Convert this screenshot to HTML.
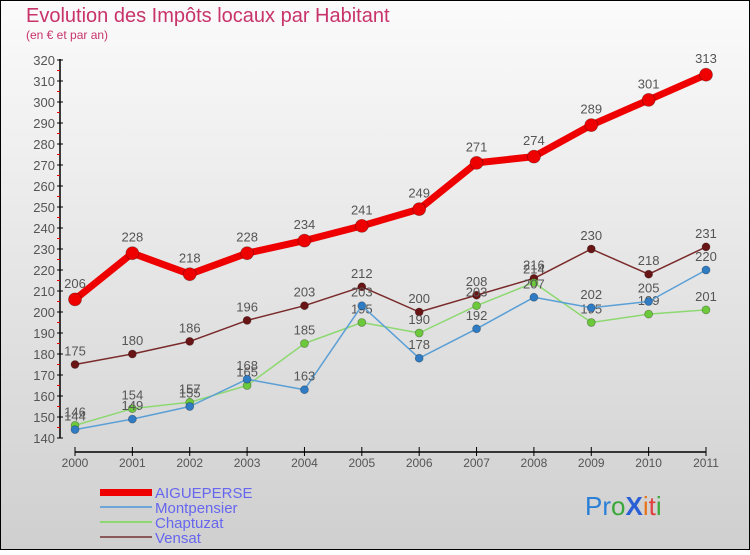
<!DOCTYPE html>
<html><head><meta charset="utf-8"><style>
html,body{margin:0;padding:0}
body{width:750px;height:550px;overflow:hidden;font-family:"Liberation Sans",sans-serif}
</style></head><body>
<svg id="c" width="750" height="550" xmlns="http://www.w3.org/2000/svg" font-family="'Liberation Sans',sans-serif">
<defs><linearGradient id="bg" x1="0" y1="0" x2="0" y2="1"><stop offset="0" stop-color="#fbfbfb"/><stop offset="1" stop-color="#cfcfcf"/></linearGradient></defs>
<rect x="0.5" y="0.5" width="749" height="549" fill="url(#bg)" stroke="#000"/>
<text x="26" y="22" font-size="20" fill="#c8336a">Evolution des Impôts locaux par Habitant</text>
<text x="26" y="39" font-size="12" fill="#c8336a">(en € et par an)</text>
<g id="axes"></g><g id="series"></g>
<g font-size="15" fill="#6666ee">
<rect x="100" y="489" width="52" height="7" fill="#e00"/>
<text x="155" y="498">AIGUEPERSE</text>
<rect x="100" y="506" width="52" height="2" fill="#6fa6d8"/>
<text x="155" y="513">Montpensier</text>
<rect x="100" y="521" width="52" height="2" fill="#8ed872"/>
<text x="155" y="528">Chaptuzat</text>
<rect x="100" y="536" width="52" height="2" fill="#8a5a5a"/>
<text x="155" y="543">Vensat</text>
</g>
<g font-size="26">
<text x="585" y="515"><tspan fill="#2a7fd6">Pr</tspan><tspan fill="#3aa83a">o</tspan><tspan fill="#2a5fd6" font-weight="bold">X</tspan><tspan fill="#e8741a">i</tspan><tspan fill="#e04040">t</tspan><tspan fill="#3aa83a">i</tspan></text>
</g>
</svg>
<script>
const years=[2000,2001,2002,2003,2004,2005,2006,2007,2008,2009,2010,2011];
const aigueperse=[206,228,218,228,234,241,249,271,274,289,301,313];
const montpensier=[144,149,155,168,163,203,178,192,207,202,205,220];
const chaptuzat=[146,154,157,165,185,195,190,203,214,195,199,201];
const vensat=[175,180,186,196,203,212,200,208,216,230,218,231];
const yTicks=[140,150,160,170,180,190,200,210,220,230,240,250,260,270,280,290,300,310,320];
const NS='http://www.w3.org/2000/svg';
const x=i=>75+i*(706-75)/11;
const y=v=>438-(v-140)*(438-60)/180;
function mk(t,a,p){const e=document.createElementNS(NS,t);for(const k in a)e.setAttribute(k,a[k]);p.appendChild(e);return e;}
const ax=document.getElementById('axes');
const yAxis=mk('line',{x1:60,y1:y(320)-1,x2:60,y2:y(140),stroke:'#000','stroke-width':1.5},ax);


const xAxis=mk('line',{x1:x(0),y1:452,x2:x(11),y2:452,stroke:'#000','stroke-width':1.5},ax);


yTicks.forEach((v,i)=>{
  mk('line',{x1:57,y1:y(v),x2:63,y2:y(v),stroke:'#000'},ax);
  if(i<yTicks.length-1) mk('line',{x1:57,y1:y(v+5),x2:60,y2:y(v+5),stroke:'#e00'},ax);
  const t=mk('text',{x:55,y:y(v)+5,'text-anchor':'end','font-size':13,fill:'#555'},ax);
  t.textContent=v;
  
  
});
years.forEach((yr,i)=>{
  mk('line',{x1:x(i),y1:447,x2:x(i),y2:456,stroke:'#000'},ax);
  const t=mk('text',{x:x(i),y:467,'text-anchor':'middle','font-size':12,fill:'#555'},ax);
  t.textContent=yr;
  
  
});
const sg=document.getElementById('series');
function series(vals,name,color,dot,lw,r){
  const g=mk('g',{},sg);
  
  
  const pl=mk('polyline',{points:vals.map((v,i)=>x(i)+','+y(v)).join(' '),fill:'none',stroke:color,'stroke-width':lw,'stroke-linejoin':'round'},g);
  
  
  vals.forEach((v,i)=>{
    const c=mk('circle',{cx:x(i),cy:y(v),r:r,fill:dot,stroke:'rgba(0,0,0,0.3)','stroke-width':0.8},g);
    
    
    const t=mk('text',{x:x(i),y:y(v)-r-5,'text-anchor':'middle','font-size':13,fill:'#555'},g);
    t.textContent=v;
    
    
  });
}
series(vensat,'vensat','#7a2a2a','#6a1515',1.5,4);
series(chaptuzat,'chaptuzat','#8ed872','#6cc93c',1.5,4);
series(montpensier,'montpensier','#5a9fd6','#2f7cc4',1.5,4);
series(aigueperse,'aigueperse','#ee0000','#ee0000',7,6.5);
</script>
</body></html>
